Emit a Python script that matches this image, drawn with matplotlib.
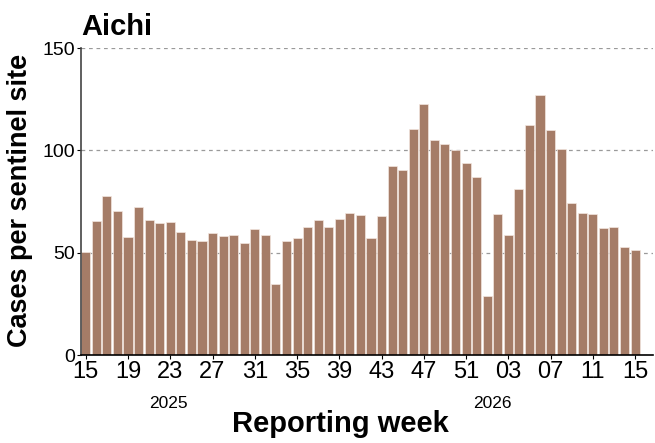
import matplotlib
matplotlib.use('Agg')
import matplotlib.pyplot as plt
import matplotlib.transforms as mtransforms
import numpy as np

plt.rcParams['font.family'] = ['Liberation Sans', 'DejaVu Sans']

# weekly cases per sentinel site, 2025 wk15 -> 2026 wk15
weeks = list(range(15, 53)) + list(range(1, 16))
cases = [
    50.3, 65.3, 77.7, 70.2, 57.7, 72.1, 66.0, 64.7, 65.1, 60.1,
    56.4, 55.5, 59.6, 58.1, 58.8, 54.6, 61.6, 58.8, 34.7, 55.9,
    57.3, 62.4, 66.0, 62.7, 66.6, 69.4, 68.6, 57.2, 67.9, 92.3,
    90.6, 110.4, 122.5, 104.9, 102.9, 100.2, 93.6, 87.1,
    28.8, 68.7, 58.5, 80.9, 112.4, 127.0, 109.9, 100.7, 74.3,
    69.2, 68.9, 62.1, 62.4, 52.6, 51.3,
]
year_labels = ['2025', '2026']
year_label_pos = [7.8, 38.5]

bar_color = '#a57c67'

fig = plt.figure(figsize=(6.55, 4.43), dpi=100)
ax = fig.add_axes([0.1237, 0.1986, 0.8733, 0.693])

x = np.arange(len(cases))
ax.bar(x, cases, width=0.86, color=bar_color, edgecolor='#f3e6df', linewidth=0.5, zorder=2)

ax.set_xlim(-0.45, len(cases) + 0.7)
ax.set_ylim(0, 150)
ax.set_yticks([0, 50, 100, 150])
ax.yaxis.grid(True, linestyle=(0, (3, 3)), color='#9a9a9a', linewidth=0.9, zorder=0)

tick_idx = x[::4]
ax.set_xticks(tick_idx)
ax.set_xticklabels([f'{weeks[i]:02d}' for i in tick_idx],
                   family=['Liberation Sans Narrow', 'Liberation Sans'], fontsize=17)
ax.tick_params(axis='x', length=3, width=0.8, pad=1)
ax.tick_params(axis='y', labelsize=14, length=3, width=0.8, pad=1)

for side in ['top', 'right']:
    ax.spines[side].set_visible(False)
ax.spines['left'].set_color('#444444')
ax.spines['left'].set_linewidth(1.2)
ax.spines['bottom'].set_linewidth(1.2)

trans = mtransforms.blended_transform_factory(ax.transData, fig.transFigure)
for label, pos in zip(year_labels, year_label_pos):
    fig.text(pos, 1 - 403 / 443, label, transform=trans, fontsize=12.5,
             ha='center', va='center')

fig.text(0.1237, 1 - 27 / 443, 'Aichi', fontsize=21, fontweight='bold',
         ha='left', va='center')
fig.text(0.52, 1 - 424 / 443, 'Reporting week', fontsize=21, fontweight='bold',
         ha='center', va='center')
fig.text(20 / 655, 1 - 200 / 443, 'Cases per sentinel site', fontsize=19.5,
         fontweight='bold', rotation=90, ha='center', va='center')

fig.savefig('out.png', dpi=100)
